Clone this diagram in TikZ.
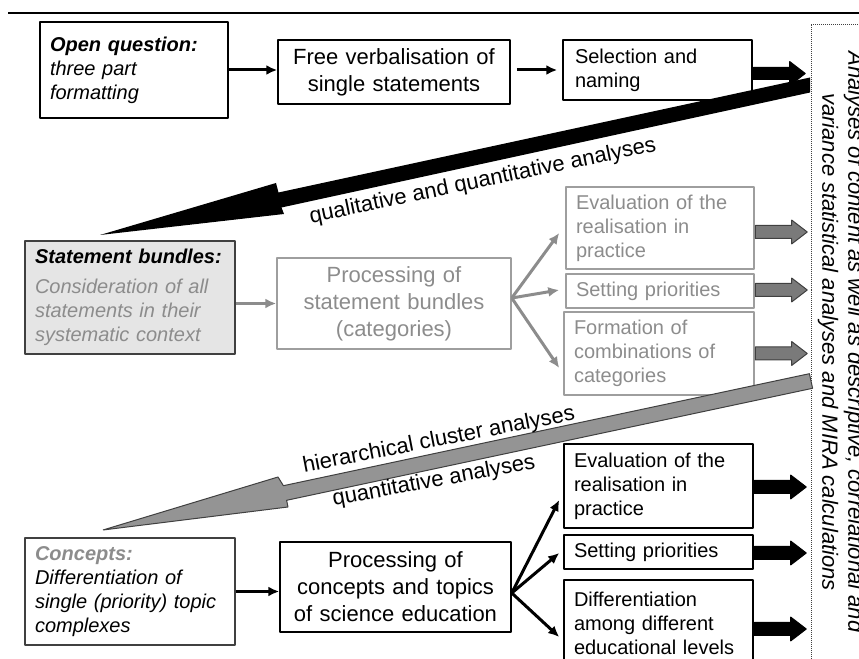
\documentclass[tikz,border=0pt]{standalone}
\usepackage{fontspec}
\setmainfont{Liberation Sans}
\usetikzlibrary{shapes.arrows,arrows.meta}

\definecolor{textgray}{gray}{0.55}
\definecolor{lightgray}{gray}{0.62}
\definecolor{darkline}{gray}{0.25}
\definecolor{paleback}{gray}{0.9}
\definecolor{wedgegray}{gray}{0.58}
\definecolor{blockgray}{gray}{0.48}

\tikzset{
  box/.style={draw,line width=1.5bp,inner ysep=0bp,font=\fontsize{20bp}{24bp}\selectfont},
  leftbox/.style={box,align=left,inner xsep=10bp},
  midbox/.style={box,align=center,inner xsep=10bp,font=\fontsize{22bp}{27bp}\selectfont},
  greybox/.style={draw=lightgray,text=textgray},
  link/.style={-{Latex[length=11bp,width=10bp]},line width=3bp},
  blockarrow/.style={single arrow,draw=darkline,line width=1bp,inner xsep=0bp,inner ysep=6bp,
    minimum height=52bp,single arrow head extend=5.5bp,
    single arrow tip angle=75,anchor=tail},
  wedgelabel/.style={font=\fontsize{22bp}{26bp}\selectfont,anchor=base,inner sep=0bp},
}

\begin{document}
\begin{tikzpicture}[>=latex,line join=bevel,]
%%
\useasboundingbox (0bp,0bp) rectangle (859bp,659bp);
\clip (0bp,0bp) rectangle (859bp,659bp);
\draw [line width=1.3bp] (8bp,646bp) -- (859bp,646bp);
%
\node (open) at (134bp,589bp) [leftbox,text width=168bp,minimum height=96bp] {\bfseries\itshape Open question:\\ \mdseries three part\\ formatting};
  \node (verbal) at (394bp,587bp) [midbox,text width=212bp,minimum height=64bp] {Free verbalisation of\\ single statements};
  \node (select) at (657.5bp,589bp) [leftbox,inner xsep=12bp,text width=165bp,minimum height=60bp] {Selection and\\ naming};
  \draw [black,link] (open.east) -- (open.east -| verbal.west);
  \draw [black,link,shorten <=6bp,shorten >=5bp] (select.west -| verbal.east) -- (select.west);
  \node (selarrow) at ([yshift=-3.5bp]select.east) [blockarrow,draw=black,fill=black,inner ysep=5.5bp,single arrow head extend=6bp] {};
%
\node (analyses) at (841bp,317bp) [rotate=-90,align=center,inner sep=0bp,font=\itshape\fontsize{22bp}{26bp}\selectfont] {Analyses of content as well as descriptive, correlational and\\ variance statistical analyses and MIRA calculations};
  \draw [densely dotted,line width=1bp,darkline] (811bp,634bp) rectangle (880bp,-20bp);
%
\fill [black] (810bp,581.5bp) -- (278.5bp,466.5bp) -- (276bp,476bp) -- (100bp,424bp) -- (284bp,445bp) -- (281.5bp,451.5bp) -- (810bp,566.5bp) -- cycle;
  \node (qqa) at (484bp,472bp) [wedgelabel,rotate=11.8] {qualitative and quantitative analyses};
%
\node (bundles) at (130bp,361.5bp) [leftbox,draw=darkline,fill=paleback,text width=190bp,minimum height=113bp] {\bfseries\itshape Statement bundles:\\[6bp] \mdseries\color{textgray}Consideration of all\\ statements in their\\ systematic context};
  \node (procb) at (394bp,355.5bp) [midbox,greybox,text width=214bp,minimum height=91bp] {Processing of\\ statement bundles\\ (categories)};
  \node (evalg) at (660bp,431bp) [leftbox,greybox,text width=168bp,minimum height=82bp] {Evaluation of the\\ realisation in\\ practice};
  \node (setg) at (660bp,368bp) [leftbox,greybox,text width=168bp,minimum height=34bp] {Setting priorities};
  \node (formg) at (659bp,305.5bp) [leftbox,greybox,text width=170bp,minimum height=83bp] {Formation of\\ combinations of\\ categories};
  \draw [textgray,link] (bundles.east |- procb.west) -- (procb.west);
  \coordinate (fang) at ([yshift=5.5bp]procb.east);
  \draw [textgray,link] (fang) -- ([xshift=-6bp,yshift=-5bp]evalg.west);
  \draw [textgray,link] (fang) -- ([xshift=-6bp,yshift=1bp]setg.west);
  \draw [textgray,link] (fang) -- ([xshift=-4bp,yshift=-14.5bp]formg.west);
  \node (evalgarrow) at ([yshift=-4bp]evalg.east) [blockarrow,fill=blockgray] {};
  \node (setgarrow) at ([yshift=1bp]setg.east) [blockarrow,fill=blockgray] {};
  \node (formgarrow) at (formg.east) [blockarrow,fill=blockgray] {};
%
\filldraw [fill=wedgegray,draw=darkline,line width=1bp] (809.4bp,285.3bp) -- (283.4bp,173.3bp) -- (278bp,182bp) -- (103bp,129bp) -- (288bp,152bp) -- (286.6bp,158.7bp) -- (812.6bp,270.7bp) -- cycle;
  \node (hca) at (440bp,213bp) [wedgelabel,rotate=11] {hierarchical cluster analyses};
  \node (qa) at (435bp,172bp) [wedgelabel,rotate=10.5] {quantitative analyses};
%
\node (concepts) at (130bp,67.5bp) [leftbox,draw=darkline,text width=190bp,minimum height=107bp] {{\bfseries\itshape\color{textgray}Concepts:}\\ \itshape Differentiation of\\ single (priority) topic\\ complexes};
  \node (procc) at (395.5bp,72bp) [midbox,text width=211bp,minimum height=90bp] {Processing of\\ concepts and topics\\ of science education};
  \node (evalb) at (658.5bp,173bp) [leftbox,text width=169bp,minimum height=84bp] {Evaluation of the\\ realisation in\\ practice};
  \node (setb) at (658.5bp,107bp) [leftbox,text width=169bp,minimum height=34bp] {Setting priorities};
  \node (diffb) at (658.5bp,36bp) [leftbox,text width=169bp,minimum height=86bp] {Differentiation\\ among different\\ educational levels};
  \draw [black,link] (concepts.east) -- (concepts.east -| procc.west);
  \coordinate (fanb) at ([yshift=-6bp]procc.east);
  \draw [black,link] (fanb) -- ([xshift=-4bp,yshift=-14bp]evalb.west);
  \draw [black,link] (fanb) -- ([xshift=-4bp,yshift=-1bp]setb.west);
  \draw [black,link] (fanb) -- ([xshift=-4bp,yshift=-14bp]diffb.west);
  \node (evalbarrow) at ([yshift=-1bp]evalb.east) [blockarrow,draw=black,fill=black] {};
  \node (setbarrow) at ([yshift=-1bp]setb.east) [blockarrow,draw=black,fill=black] {};
  \node (diffbarrow) at ([yshift=-6bp]diffb.east) [blockarrow,draw=black,fill=black] {};
%
\end{tikzpicture}
\end{document}
